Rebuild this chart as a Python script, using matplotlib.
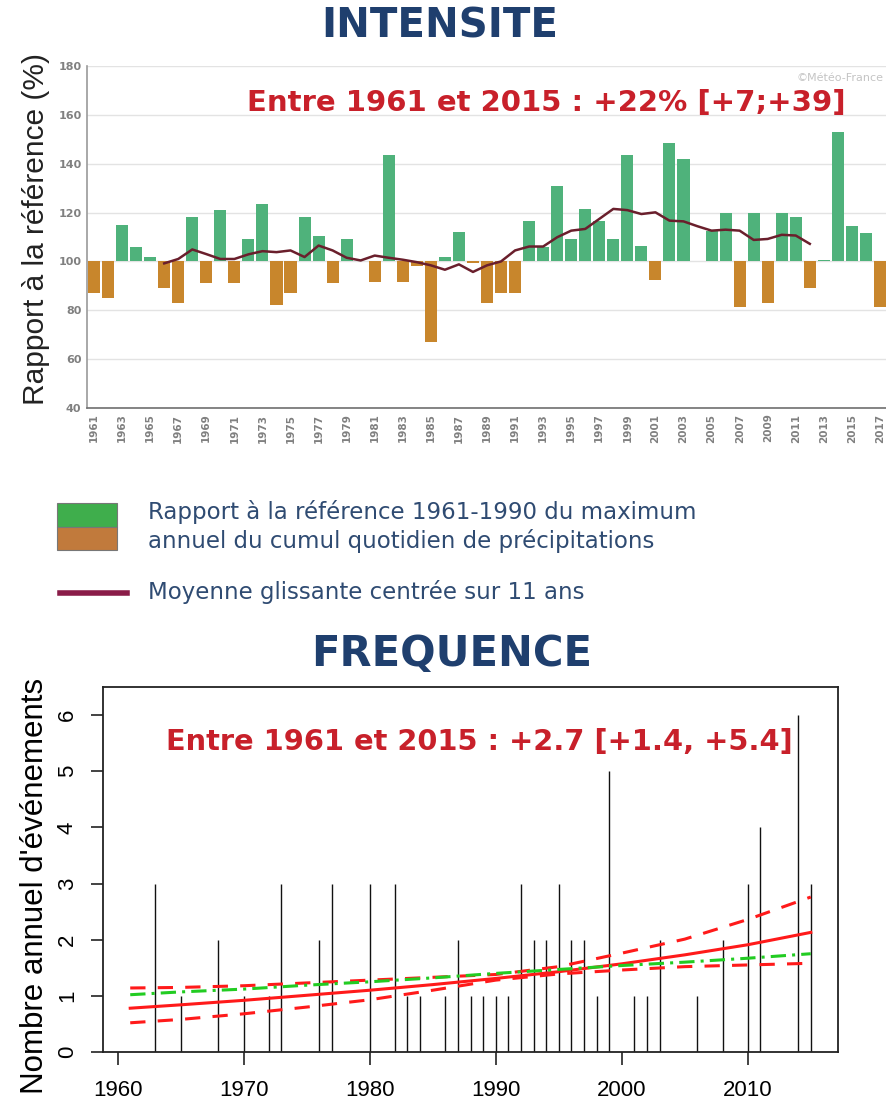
import matplotlib
matplotlib.use("Agg")
import matplotlib.pyplot as plt
import numpy as np
from matplotlib.patches import Rectangle
from matplotlib.lines import Line2D

# ---------------- DATA ----------------
# Intensité : rapport à la référence (%)
years_int = list(range(1961, 2018))
ratio = [87, 85, 115, 106, 102, 89, 83, 118, 91, 121,
         91, 109, 123.5, 82, 87, 118, 110.5, 91, 109, 100,
         91.5, 143.5, 91.5, 98, 67, 102, 112, 99.5, 83, 87,
         87, 116.5, 106, 131, 109, 121.5, 116.5, 109, 143.5, 106.5,
         92.5, 148.5, 142, 100, 112.5, 120, 81.5, 120, 83, 120,
         118, 89, 100.7, 153, 114.5, 111.5, 81.5]
ma_years = list(range(1966, 2013))
ma_vals = [99.2, 101, 104.9, 103, 101, 101, 102.9, 104.2, 103.8, 104.5,
           101.8, 106.5, 104.5, 101.5, 100.4, 102.4, 101.5, 100.7, 99.7, 98.4,
           96.6, 98.8, 95.7, 98.4, 100, 104.5, 106.1, 106.1, 109.9, 112.6,
           113.3, 117.4, 121.5, 121, 119.4, 120.1, 116.7, 116.4, 114.4, 112.6,
           113, 112.6, 108.8, 109.2, 110.9, 110.6, 107.2]
int_yticks = [40, 60, 80, 100, 120, 140, 160, 180]

# Fréquence : nombre annuel d'événements
freq_years = [1963, 1965, 1968, 1970, 1972, 1973, 1976, 1977, 1980, 1982,
              1983, 1984, 1986, 1987, 1988, 1989, 1990, 1991, 1992, 1993,
              1994, 1995, 1996, 1997, 1998, 1999, 2001, 2002, 2003, 2006,
              2008, 2010, 2011, 2014, 2015]
freq_counts = [3, 1, 2, 1, 1, 3, 2, 3, 3, 3,
               1, 1, 1, 2, 1, 1, 1, 1, 3, 2,
               2, 3, 2, 2, 1, 5, 1, 1, 2, 1,
               2, 3, 4, 6, 3]
trend_years = [1961, 1965, 1970, 1975, 1980, 1985, 1990, 1995, 2000, 2005, 2010, 2015]
trend_fit = [0.78, 0.84, 0.92, 1.01, 1.10, 1.20, 1.31, 1.43, 1.57, 1.73, 1.91, 2.13]
trend_up = [1.14, 1.15, 1.18, 1.23, 1.28, 1.33, 1.38, 1.52, 1.76, 2.01, 2.36, 2.76]
trend_lo = [0.52, 0.58, 0.68, 0.80, 0.93, 1.10, 1.28, 1.39, 1.46, 1.52, 1.55, 1.58]
lin_fit = [1.02, 1.07, 1.12, 1.19, 1.25, 1.32, 1.40, 1.47, 1.54, 1.60, 1.67, 1.75]
freq_xticks = [1960, 1970, 1980, 1990, 2000, 2010]
freq_yticks = [0, 1, 2, 3, 4, 5, 6]

# ---------------- STYLE ----------------
W, H = 887, 1099
GREEN = "#4fb27b"
BROWN = "#c8862c"
MAROON = "#6a1f2c"
TITLE_BLUE = "#1f3f6e"
RED = "#c8202a"
LEG_BLUE = "#2f4b72"
ARIAL = ["Liberation Sans", "DejaVu Sans"]

fig = plt.figure(figsize=(W / 100, H / 100), dpi=100)
fig.patch.set_facecolor("white")

def fx(px):
    return px / W

def fy(py):
    return 1 - py / H

# ---------------- TOP CHART ----------------
ax = fig.add_axes([fx(87), fy(408), fx(887) - fx(87), fy(66) - fy(408)])
x = np.arange(len(years_int))
vals = np.array(ratio, dtype=float)
cols = [GREEN if v >= 100 else BROWN for v in vals]
ax.bar(x, vals - 100, bottom=100, width=0.86, color=cols, zorder=2)
ma_x = [years_int.index(y) for y in ma_years]
ax.plot(ma_x, ma_vals, color=MAROON, lw=1.8, zorder=3)
ax.set_xlim(-0.5, len(years_int) - 0.5)
ax.set_ylim(40, 180)
ax.set_yticks(int_yticks)
ax.set_yticklabels([str(t) for t in int_yticks], fontsize=8, fontweight="bold", color="#808080")
ax.set_xticks(x[::2])
ax.set_xticklabels([str(y) for y in years_int[::2]], rotation=90, fontsize=7.5,
                   fontweight="bold", color="#808080")
ax.tick_params(length=0, pad=4)
ax.grid(axis="y", color="#e3e3e3", lw=1, zorder=0)
ax.set_axisbelow(True)
for s in ["top", "right"]:
    ax.spines[s].set_visible(False)
ax.spines["left"].set_color("#9a9a9a")
ax.spines["bottom"].set_color("#707070")
ax.spines["left"].set_linewidth(1.2)
ax.spines["bottom"].set_linewidth(1.2)
ax.set_ylabel("Rapport à la référence (%)", fontsize=21.5, color="#222222", family=ARIAL)
ax.yaxis.set_label_coords(-0.046, 0.523)
ax.patch.set_alpha(0)

# ---------------- BOTTOM CHART ----------------
bx = fig.add_axes([fx(103), fy(1052), fx(838) - fx(103), fy(687) - fy(1052)])
bx.vlines(freq_years, 0, freq_counts, color="#111111", lw=1.0, zorder=2)
bx.plot(trend_years, trend_fit, color="#ff1a1a", lw=2.2, zorder=3)
bx.plot(trend_years, trend_up, color="#ff1a1a", lw=2.2, ls=(0, (5, 4)), zorder=3)
bx.plot(trend_years, trend_lo, color="#ff1a1a", lw=2.2, ls=(0, (5, 4)), zorder=3)
bx.plot(trend_years, lin_fit, color="#22cc22", lw=2.2, ls=(0, (5, 2, 1, 2)), zorder=3)
bx.set_xlim(1958.84, 2017.16)
bx.set_ylim(0, 6.5)
bx.set_xticks(freq_xticks)
bx.set_xticklabels([str(t) for t in freq_xticks], fontsize=16, family=ARIAL)
bx.set_yticks(freq_yticks)
bx.set_yticklabels([str(t) for t in freq_yticks], fontsize=16, rotation=90, va="center",
                   family=ARIAL)
bx.tick_params(length=9, width=1.2, direction="out", color="#222222")
bx.tick_params(axis="x", pad=11)
bx.tick_params(axis="y", pad=9)
for s in bx.spines.values():
    s.set_linewidth(1.3)
    s.set_color("#222222")
bx.set_ylabel("Nombre annuel d'événements", fontsize=22.5, family=ARIAL)
bx.yaxis.set_label_coords(-0.072, 0.455)
bx.patch.set_alpha(0)

# ---------------- OVERLAY (titles, annotations, legend) ----------------
ov = fig.add_axes([0, 0, 1, 1])
ov.set_xlim(0, W)
ov.set_ylim(H, 0)
ov.axis("off")
ov.set_zorder(10)

ov.text(440, 26, "INTENSITE", fontsize=29, fontweight="bold", color=TITLE_BLUE,
        ha="center", va="center")
ov.text(884, 78, "©Météo-France", fontsize=8, color="#c4c4c4", ha="right", va="center")
ov.text(546, 103, "Entre 1961 et 2015 : +22% [+7;+39]", fontsize=21, fontweight="bold",
        color=RED, ha="center", va="center")

ov.add_patch(Rectangle((57, 503), 60, 24, facecolor="#3fae4c", edgecolor="#777777", lw=0.8))
ov.add_patch(Rectangle((57, 527), 60, 23, facecolor="#c17a3c", edgecolor="#777777", lw=0.8))
ov.text(148, 512, "Rapport à la référence 1961-1990 du maximum", fontsize=16.5,
        color=LEG_BLUE, ha="left", va="center")
ov.text(148, 541, "annuel du cumul quotidien de précipitations", fontsize=16.5,
        color=LEG_BLUE, ha="left", va="center")
ov.add_line(Line2D([60, 127], [593, 593], color="#8a1c48", lw=4))
ov.text(148, 592, "Moyenne glissante centrée sur 11 ans", fontsize=16.5,
        color=LEG_BLUE, ha="left", va="center")

ov.text(452, 654, "FREQUENCE", fontsize=30, fontweight="bold", color=TITLE_BLUE,
        ha="center", va="center")
ov.text(479, 742, "Entre 1961 et 2015 : +2.7 [+1.4, +5.4]", fontsize=20.8, fontweight="bold",
        color=RED, ha="center", va="center")

fig.savefig("out.png", dpi=100, facecolor="white")
